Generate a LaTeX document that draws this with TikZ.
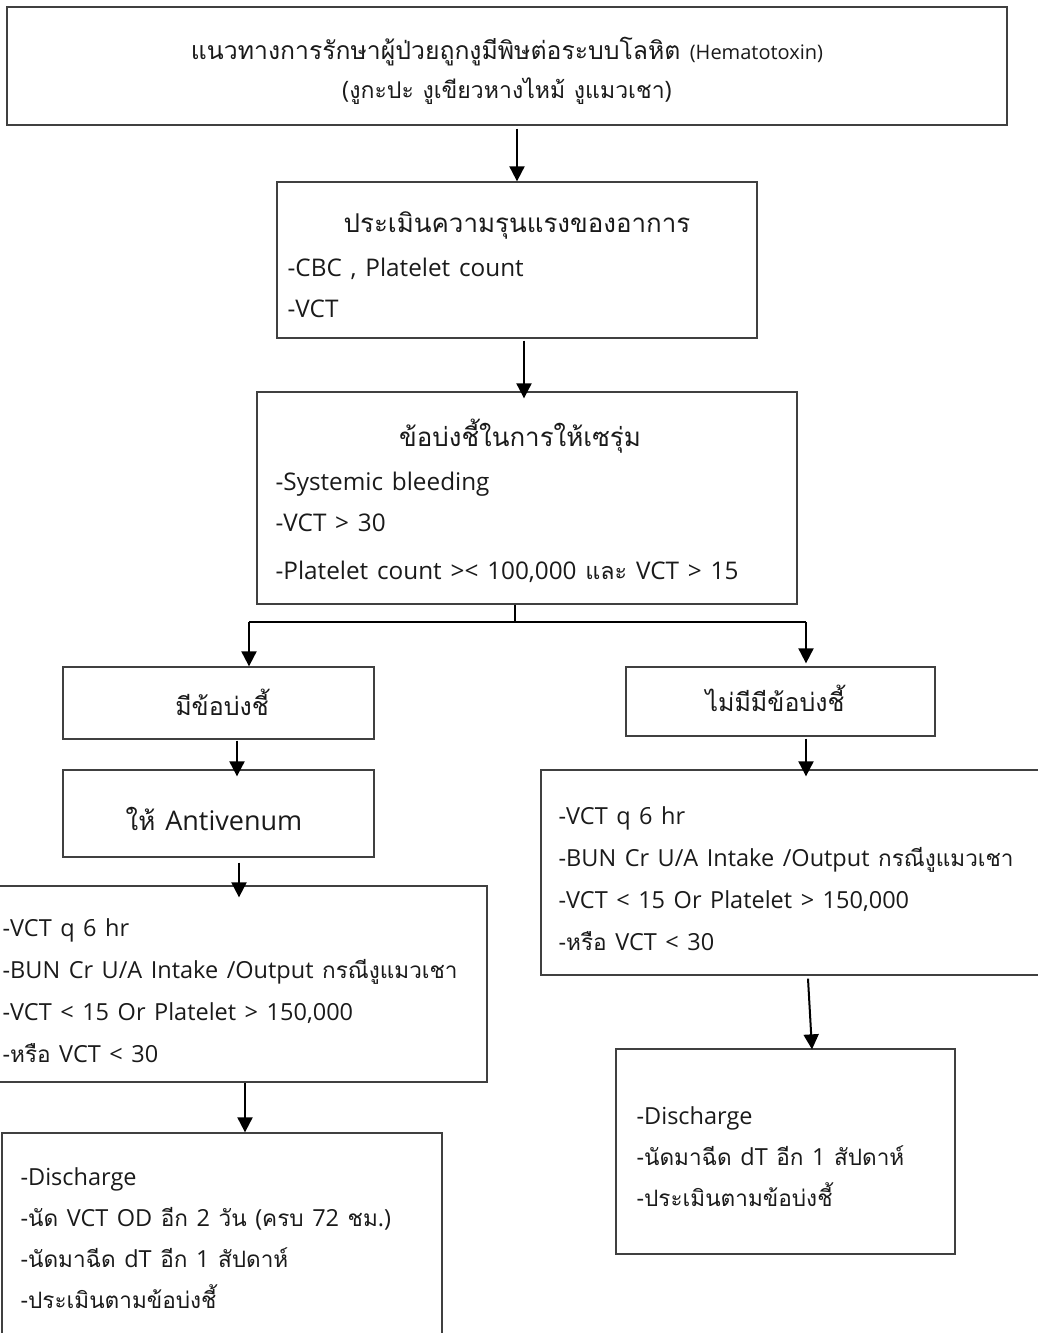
\documentclass[tikz,border=0pt]{standalone}
\usepackage{fontspec}
\setmainfont[WordSpace=1.4]{Open Sans}
\newfontfamily\thaifont[Script=Thai, Scale=0.96]{Loma}
% Thai letters switch to the Thai font, everything else stays in the main font
\XeTeXinterchartokenstate=1
\newXeTeXintercharclass\thaiclass
\newcount\thaicode
\thaicode="0E00
\loop\ifnum\thaicode<"0E80 \XeTeXcharclass\thaicode=\thaiclass \advance\thaicode by 1 \repeat
\XeTeXinterchartoks 0 \thaiclass = {\thaifont}
\XeTeXinterchartoks 4095 \thaiclass = {\thaifont}
\XeTeXinterchartoks \thaiclass 0 = {\normalfont}
\XeTeXinterchartoks \thaiclass 4095 = {\normalfont}
\usetikzlibrary{arrows.meta, positioning}
\definecolor{cbox}{HTML}{404040}
\definecolor{cink}{HTML}{1A1A1A}
\tikzset{
  every picture/.style={line width=1.2pt},
  box/.style={draw=cbox, line width=1.3pt, inner sep=0pt},
  arrow/.style={-{Triangle[length=15pt, width=15pt]}, draw=black, line width=2pt},
  bar/.style={draw=black, line width=2.5pt},
  title/.style={font=\fontsize{27}{32}\selectfont, text=cink, inner sep=0pt, anchor=base},
  item/.style={font=\fontsize{23.5}{28}\selectfont, text=cink, inner sep=0pt, anchor=base west},
  bigitem/.style={item, font=\fontsize{24.3}{29}\selectfont},
  choice/.style={font=\fontsize{26}{30}\selectfont, text=cink, inner sep=0pt, anchor=base},
  head/.style={font=\fontsize{25.8}{30}\selectfont, text=cink, inner sep=0pt, anchor=base},
}

\begin{document}
\begin{tikzpicture}[x=1pt, y=-1pt]
  \useasboundingbox (0,0) rectangle (1037,1333);
  % header
  \node[box, minimum width=1000pt, minimum height=118pt] (head) at (507,66) {};
  \node[head] (head-1) at (507,59) {แนวทางการรักษาผู้ป่วยถูกงูมีพิษต่อระบบโลหิต {\fontsize{20}{24}\selectfont(Hematotoxin)}};
  \node[head, font=\fontsize{24}{28}\selectfont] (head-2) at (507,98) {(งูกะปะ งูเขียวหางไหม้ งูแมวเชา)};
  % assessment
  \node[box, minimum width=480pt, minimum height=156pt] (assess) at (517,260) {};
  \node[title] (assess-t) at (517,232) {ประเมินความรุนแรงของอาการ};
  \node[bigitem] (assess-1) at (287,276) {-CBC , Platelet count};
  \node[bigitem] (assess-2) at (287,317) {-VCT};
  \draw[arrow] ([xshift=10pt, yshift=-3pt]head.south) -- (assess.north);
  % indications for antivenom
  \node[box, minimum width=540pt, minimum height=212pt] (indic) at (527,498) {};
  \node[title] (indic-t) at (520,446) {ข้อบ่งชี้ในการให้เซรุ่ม};
  \node[bigitem] (indic-1) at (275,490) {-Systemic bleeding};
  \node[bigitem] (indic-2) at (275,531) {-VCT > 30};
  \node[bigitem] (indic-3) at (275,579) {-Platelet count >< 100,000 และ VCT > 15};
  \draw[arrow] ([xshift=7pt, yshift=-2pt]assess.south) -- ([xshift=-3pt, yshift=-7pt]indic.north);
  % split into two branches
  \coordinate (split) at (515,622);
  \coordinate (split-l) at (249,622);
  \coordinate (split-r) at (806,622);
  \node[box, minimum width=311pt, minimum height=72pt] (yes) at (218.5,703) {};
  \node[choice] (yes-t) at (222,715) {มีข้อบ่งชี้};
  \node[box, minimum width=309pt, minimum height=69pt] (no) at (780.5,701.5) {};
  \node[choice] (no-t) at (775,711) {ไม่มีมีข้อบ่งชี้};
  \draw[line width=2pt] (indic.south -| split) -- (split);
  \draw[bar] (split-l) -- (split-r);
  \draw[arrow] (split-l) -- (split-l |- yes.north);
  \draw[arrow] (split-r) -- ([yshift=3pt]split-r |- no.north);
  % left branch
  \node[box, minimum width=311pt, minimum height=87pt] (anti) at (218.5,813.5) {};
  \node[title] (anti-t) at (214,830) {ให้ Antivenum};
  \draw[arrow] ([xshift=18.5pt, yshift=-1pt]yes.south) -- ([xshift=18.5pt, yshift=-7pt]anti.north);
  \node[box, minimum width=489pt, minimum height=196pt] (follow-l) at (242.5,984) {};
  \foreach \t [count=\i] in {-VCT q 6 hr, -BUN Cr U/A Intake /Output กรณีงูแมวเชา, {-VCT < 15 Or Platelet > 150,000}, -หรือ VCT < 30}
    \node[item] (follow-l-\i) at (2,894+42*\i) {\t};
  \draw[arrow] ([xshift=20.5pt, yshift=-5pt]anti.south) -- ([xshift=-3.5pt, yshift=-12pt]follow-l.north);
  \node[box, minimum width=440pt, minimum height=207pt] (disch-l) at (222,1236.5) {};
  \foreach \t [count=\i] in {-Discharge, -นัด VCT OD อีก 2 วัน (ครบ 72 ชม.), -นัดมาฉีด dT อีก 1 สัปดาห์, -ประเมินตามข้อบ่งชี้}
    \node[item] (disch-l-\i) at (20,1144+41*\i) {\t};
  \draw[arrow] ([xshift=2.5pt]follow-l.south) -- ([xshift=23pt]disch-l.north);
  % right branch
  \node[box, minimum width=499pt, minimum height=205pt] (follow-r) at (790.5,872.5) {};
  \foreach \t [count=\i] in {-VCT q 6 hr, -BUN Cr U/A Intake /Output กรณีงูแมวเชา, {-VCT < 15 Or Platelet > 150,000}, -หรือ VCT < 30}
    \node[item] (follow-r-\i) at (558,782+42*\i) {\t};
  \draw[arrow] ([xshift=25.5pt, yshift=-2pt]no.south) -- ([xshift=15.5pt, yshift=-7pt]follow-r.north);
  \node[box, minimum width=339pt, minimum height=205pt] (disch-r) at (785.5,1151.5) {};
  \foreach \t [count=\i] in {-Discharge, -นัดมาฉีด dT อีก 1 สัปดาห์, -ประเมินตามข้อบ่งชี้}
    \node[item] (disch-r-\i) at (636,1083+41*\i) {\t};
  \draw[arrow] ([xshift=17.5pt, yshift=-3pt]follow-r.south) -- ([xshift=26.5pt, yshift=-1pt]disch-r.north);
\end{tikzpicture}
\end{document}
